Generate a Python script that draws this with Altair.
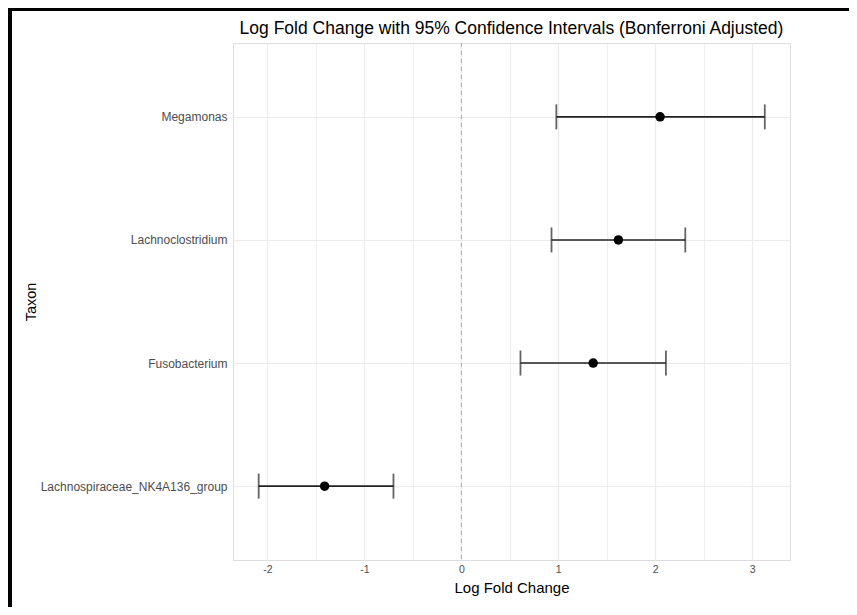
import altair as alt
import pandas as pd

taxa = ["Megamonas", "Lachnoclostridium", "Fusobacterium", "Lachnospiraceae_NK4A136_group"]
lfc = [2.05, 1.62, 1.36, -1.41]
ci_lower = [0.98, 0.93, 0.61, -2.09]
ci_upper = [3.13, 2.31, 2.11, -0.70]
x_ticks = [-2, -1.5, -1, -0.5, 0, 0.5, 1, 1.5, 2, 2.5, 3]
ref_line = [0]

df = pd.DataFrame({"Taxon": taxa, "LFC": lfc, "lower": ci_lower, "upper": ci_upper})
ref = pd.DataFrame({"x": ref_line})
deco = pd.DataFrame({"a": [0]})

FONT = "Liberation Sans"
W, H = 557, 517
PL, PT, PR, PB = 225, 35, 59, 47

xscale = alt.Scale(domain=[-2.355, 3.39], nice=False, zero=False)
yscale = alt.Scale(type="point", padding=0.6)

xaxis = alt.Axis(
    values=x_ticks,
    labelExpr="datum.value % 1 === 0 ? toString(datum.value) : ''",
    grid=True,
    gridColor="#ebebeb",
    gridWidth={"condition": {"test": "datum.value % 1 === 0", "value": 1.2}, "value": 0.8},
    domain=False,
    ticks=False,
    labelFont=FONT,
    labelFontSize=10.5,
    labelColor="#4d4d4d",
    labelPadding=4,
    title="Log Fold Change",
    titleFont=FONT,
    titleFontSize=15,
    titleFontWeight="normal",
    titleColor="#000000",
    titlePadding=6,
)
yaxis = alt.Axis(
    grid=True,
    gridColor="#ebebeb",
    gridWidth=1.2,
    domain=False,
    ticks=False,
    labelFont=FONT,
    labelFontSize=12,
    labelColor="#4d4d4d",
    labelPadding=6,
    labelLimit=400,
    title="Taxon",
    titleFont=FONT,
    titleFontSize=14.5,
    titleFontWeight="normal",
    titleColor="#000000",
    titlePadding=2,
)

base = alt.Chart(df)

bars = base.mark_rule(color="#222222", strokeWidth=1.6).encode(
    x=alt.X("lower:Q", scale=xscale, axis=xaxis),
    x2="upper:Q",
    y=alt.Y("Taxon:N", sort=taxa, scale=yscale, axis=yaxis),
)
cap_lo = base.mark_tick(color="#222222", thickness=1.8, size=25, orient="vertical").encode(
    x=alt.X("lower:Q", scale=xscale),
    y=alt.Y("Taxon:N", sort=taxa, scale=yscale),
)
cap_hi = base.mark_tick(color="#222222", thickness=1.8, size=25, orient="vertical").encode(
    x=alt.X("upper:Q", scale=xscale),
    y=alt.Y("Taxon:N", sort=taxa, scale=yscale),
)
points = base.mark_point(filled=True, color="#000000", size=90, opacity=1).encode(
    x=alt.X("LFC:Q", scale=xscale),
    y=alt.Y("Taxon:N", sort=taxa, scale=yscale),
)
vline = alt.Chart(ref).mark_rule(color="#a0a0a0", strokeWidth=0.9, strokeDash=[4, 4]).encode(
    x=alt.X("x:Q", scale=xscale)
)

border_left = alt.Chart(deco).mark_rule(color="#000000", strokeWidth=4).encode(
    x=alt.value(-PL + 2), y=alt.value(-PT), y2=alt.value(H + PB)
)
border_top = alt.Chart(deco).mark_rule(color="#000000", strokeWidth=3).encode(
    x=alt.value(-PL), x2=alt.value(W + PR), y=alt.value(-PT + 1.5)
)

chart = (
    alt.layer(vline, bars, cap_lo, cap_hi, points, border_left, border_top)
    .properties(
        width=W,
        height=H,
        autosize=alt.AutoSizeParams(type="none"),
        padding={"left": PL, "top": PT, "right": PR, "bottom": PB},
        title=alt.Title(
            "Log Fold Change with 95% Confidence Intervals (Bonferroni Adjusted)",
            font=FONT,
            fontSize=17.5,
            fontWeight="normal",
            color="#000000",
            anchor="middle",
            frame="group",
            offset=0,
            dy=31,
        ),
    )
    .configure_view(stroke=None)
    .configure(background="#ffffff")
)

chart.save("out.html", embed_options={"renderer": "svg", "actions": False})
